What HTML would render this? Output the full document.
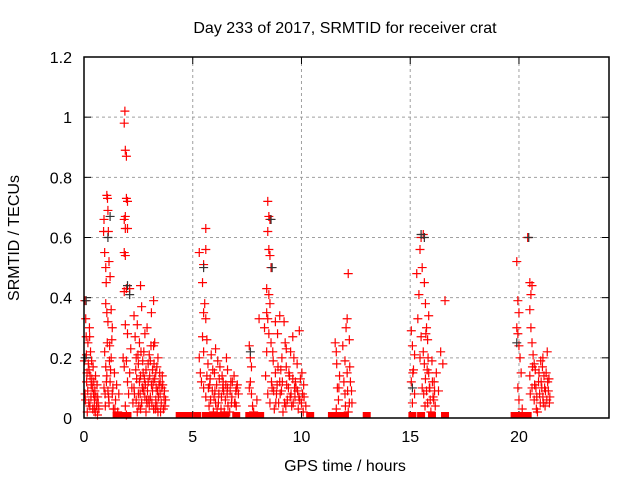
<!DOCTYPE html>
<html><head><meta charset="utf-8"><style>
body{margin:0;background:#fff}
svg{display:block;font-family:"Liberation Sans",sans-serif}
</style></head><body>
<svg id="chart" width="640" height="480" viewBox="0 0 640 480">
<rect width="640" height="480" fill="#fff"/>
<text x="345" y="33" text-anchor="middle" font-size="16">Day 233 of 2017, SRMTID for receiver crat</text>
<text x="0" y="0" transform="translate(19,238) rotate(-90)" text-anchor="middle" font-size="16">SRMTID / TECUs</text>
<text x="345" y="471" text-anchor="middle" font-size="16">GPS time / hours</text>
<g id="grid"></g><g id="axes"></g><g id="marks"></g>
<rect x="84" y="57" width="525" height="361" fill="none" stroke="#000" stroke-width="1.5"/>
</svg>
<script>
const xTicks=[0,5,10,15,20];
const yTicks=[0,0.2,0.4,0.6,0.8,1,1.2];
const yTickLabels=["0","0.2","0.4","0.6","0.8","1","1.2"];
const redTimes=[0.02,0.05,0.08,0.1,0.12,0.15,0.18,0.2,0.22,0.25,0.28,0.3,0.32,0.35,0.38,0.4,0.42,0.45,0.48,0.5,0.52,0.55,0.58,0.6,0.62,0.65,0.68,0.04,0.14,0.26,0.36,
0.9,0.92,0.95,1.0,1.02,1.05,1.08,1.1,1.12,1.15,1.0,1.05,1.1,1.2,1.25,1.3,0.95,1.0,1.05,1.1,1.15,1.2,1.25,1.3,1.35,1.4,1.45,0.92,0.98,1.5,1.55,1.6,1.18,1.28,
1.85,1.88,1.9,1.95,1.85,1.9,1.95,2.0,1.9,2.0,1.85,1.9,1.95,1.85,2.1,1.9,2.0,1.8,1.85,1.95,2.0,2.05,2.1,1.9,1.95,2.15,2.2,2.25,
2.3,2.35,2.4,2.45,2.5,2.55,2.6,2.65,2.7,2.75,2.8,2.85,2.9,2.95,3.0,3.05,3.1,3.15,3.2,3.25,3.3,3.35,3.4,3.45,3.5,3.55,3.6,3.65,3.7,3.75,2.3,2.4,2.5,2.6,2.7,2.8,2.9,3.0,3.1,3.2,3.3,3.4,3.5,2.45,2.55,2.65,2.75,2.85,2.95,3.05,3.15,3.25,3.35,2.6,3.2,
5.3,5.6,5.6,5.5,5.45,5.5,5.55,5.6,5.45,5.5,5.65,5.3,5.35,5.4,5.5,5.6,5.7,5.8,5.9,6.0,6.05,6.1,6.2,6.25,6.3,6.4,6.5,6.6,6.7,6.8,6.9,7.0,7.1,5.75,5.85,5.95,6.15,6.35,6.45,6.55,6.75,6.95,5.65,6.05,6.6,7.05,
7.6,7.65,7.7,7.65,7.7,7.75,7.8,7.6,7.95,8.05,
8.45,8.5,8.55,8.45,8.5,8.55,8.6,8.4,8.5,8.55,8.4,8.45,8.3,8.5,8.6,8.4,8.7,8.8,8.9,9.0,9.1,9.2,9.25,9.3,9.4,9.5,9.6,9.7,9.8,9.9,10.0,10.1,8.35,8.45,8.55,8.65,8.75,8.85,8.95,9.05,9.15,9.35,9.45,9.55,9.65,9.75,9.85,9.95,10.05,10.2,8.8,9.0,9.3,9.6,
11.55,11.6,11.65,11.7,11.6,11.75,11.9,12.0,12.05,12.1,12.15,12.2,12.25,12.0,12.1,12.2,12.3,12.15,11.95,
15.05,15.1,15.2,15.15,15.05,15.1,15.2,15.3,15.35,15.4,15.45,15.5,15.55,15.6,15.65,15.7,15.75,15.8,15.85,15.6,15.65,15.7,15.75,15.8,15.85,15.9,15.95,16.0,16.05,16.1,16.15,16.2,16.3,16.4,16.5,16.6,15.5,15.45,15.55,
19.9,19.95,20.0,19.9,19.95,20.0,20.05,20.1,19.95,20.0,20.15,20.4,20.5,20.6,20.55,20.5,20.55,20.6,20.65,20.7,20.5,20.6,20.7,20.8,20.9,21.0,21.05,21.1,21.15,21.2,21.3,21.35,21.4,20.85,20.95,21.25,20.75,21.1];
const redValues=[0.19,0.08,0.33,0.27,0.12,0.02,0.25,0.18,0.05,0.3,0.14,0.22,0.07,0.19,0.1,0.03,0.17,0.12,0.06,0.09,0.02,0.07,0.04,0.11,0.01,0.05,0.03,0.39,0.15,0.27,0.13,
0.62,0.66,0.55,0.5,0.45,0.74,0.73,0.69,0.62,0.52,0.38,0.35,0.32,0.47,0.36,0.3,0.22,0.17,0.14,0.09,0.05,0.12,0.2,0.08,0.03,0.15,0.06,0.1,0.04,0.11,0.02,0.08,0.24,0.26,
0.98,1.02,0.89,0.87,0.66,0.67,0.73,0.72,0.63,0.63,0.55,0.54,0.43,0.42,0.43,0.31,0.28,0.2,0.17,0.19,0.12,0.08,0.15,0.04,0.01,0.23,0.1,0.05,
0.34,0.27,0.2,0.31,0.18,0.25,0.14,0.37,0.1,0.22,0.07,0.16,0.3,0.12,0.04,0.19,0.35,0.09,0.24,0.13,0.06,0.17,0.02,0.11,0.08,0.05,0.14,0.03,0.09,0.06,0.1,0.06,0.08,0.03,0.19,0.28,0.05,0.21,0.11,0.03,0.15,0.2,0.12,0.02,0.12,0.05,0.09,0.02,0.18,0.07,0.16,0.25,0.04,0.44,0.39,
0.55,0.63,0.56,0.51,0.45,0.35,0.38,0.33,0.27,0.22,0.26,0.2,0.15,0.12,0.1,0.07,0.18,0.13,0.09,0.15,0.05,0.11,0.08,0.17,0.03,0.12,0.06,0.1,0.02,0.07,0.14,0.04,0.08,0.04,0.21,0.02,0.19,0.14,0.02,0.2,0.12,0.05,0.14,0.23,0.16,0.11,
0.24,0.2,0.17,0.12,0.08,0.04,0.02,0.1,0.06,0.33,
0.72,0.67,0.66,0.62,0.56,0.54,0.5,0.43,0.41,0.38,0.35,0.33,0.3,0.28,0.25,0.22,0.19,0.15,0.28,0.12,0.2,0.32,0.25,0.17,0.1,0.22,0.13,0.07,0.18,0.29,0.05,0.11,0.14,0.08,0.05,0.1,0.03,0.08,0.05,0.16,0.02,0.06,0.14,0.04,0.2,0.1,0.03,0.13,0.08,0.04,0.32,0.34,0.23,0.27,
0.25,0.22,0.1,0.06,0.03,0.14,0.24,0.19,0.3,0.33,0.48,0.26,0.12,0.08,0.15,0.05,0.09,0.02,0.12,
0.29,0.24,0.21,0.16,0.12,0.05,0.08,0.48,0.33,0.41,0.56,0.6,0.5,0.61,0.45,0.38,0.3,0.26,0.34,0.22,0.18,0.13,0.09,0.05,0.15,0.1,0.02,0.19,0.07,0.12,0.04,0.15,0.09,0.22,0.18,0.39,0.27,0.2,0.1,
0.52,0.39,0.35,0.3,0.28,0.24,0.2,0.15,0.1,0.06,0.03,0.6,0.45,0.44,0.41,0.36,0.3,0.25,0.21,0.18,0.14,0.1,0.06,0.03,0.12,0.19,0.1,0.07,0.14,0.04,0.22,0.09,0.05,0.02,0.08,0.15,0.16,0.2];
const extraTimes=[0.07,0.17,0.27,0.33,0.44,0.53,0.63,0.11,0.23,0.47,1.03,1.13,1.22,1.33,1.42,1.07,1.17,0.97,
2.32,2.42,2.52,2.62,2.72,2.82,2.92,3.02,3.12,3.22,3.32,3.42,3.52,3.62,3.72,2.38,2.58,2.78,2.98,3.18,3.38,3.58,2.48,2.68,2.88,3.08,3.28,3.48,3.68,
5.72,5.82,5.92,6.02,6.12,6.22,6.32,6.42,6.52,6.62,6.72,6.82,6.92,7.02,5.78,5.98,6.18,6.38,6.58,6.78,6.98,
8.62,8.72,8.82,8.92,9.02,9.12,9.22,9.32,9.42,9.52,9.62,9.72,9.82,9.92,10.02,10.12,8.68,8.88,9.08,9.28,9.48,9.68,9.88,10.08,
11.62,11.72,12.02,12.12,12.22,12.32,
15.12,15.62,15.72,15.82,15.92,16.02,16.12,15.68,15.78,15.88,16.08,
20.52,20.62,20.72,20.82,20.92,21.02,21.12,21.22,21.32,21.42,20.78,20.98,21.18,21.38,21.28,21.08];
const extraValues=[0.06,0.09,0.04,0.11,0.08,0.14,0.07,0.21,0.16,0.03,0.12,0.07,0.16,0.1,0.03,0.25,0.19,0.08,
0.08,0.13,0.04,0.22,0.15,0.11,0.09,0.14,0.05,0.18,0.1,0.07,0.02,0.11,0.04,0.16,0.08,0.13,0.06,0.12,0.09,0.1,0.21,0.1,0.06,0.24,0.03,0.15,0.07,
0.1,0.06,0.16,0.09,0.03,0.13,0.07,0.09,0.11,0.04,0.09,0.12,0.05,0.1,0.11,0.07,0.05,0.1,0.08,0.05,0.09,
0.12,0.09,0.05,0.17,0.08,0.12,0.05,0.11,0.15,0.08,0.05,0.12,0.09,0.06,0.15,0.07,0.22,0.11,0.09,0.04,0.07,0.1,0.07,0.02,
0.18,0.1,0.04,0.09,0.17,0.05,
0.15,0.08,0.28,0.2,0.06,0.12,0.09,0.04,0.16,0.1,0.06,
0.08,0.17,0.11,0.07,0.15,0.12,0.05,0.09,0.12,0.07,0.1,0.05,0.1,0.13,0.06,0.17];
const blackTimes=[0.1,0.05,1.2,1.1,2.0,2.1,5.5,8.6,8.65,15.5,15.65,20.45,19.9,15.1,7.65];
const blackValues=[0.39,0.2,0.67,0.6,0.44,0.41,0.5,0.66,0.5,0.61,0.6,0.6,0.25,0.1,0.22];
const zeroTimes=[1.5,1.7,1.9,2.0,4.4,4.5,4.6,4.8,5.2,5.6,5.8,6.1,6.2,6.3,6.5,7.0,7.6,7.8,7.9,8.0,8.1,10.4,11.4,11.7,12.0,13.0,15.1,15.5,16.0,16.6,19.8,19.9,20.0,20.1,20.4];

const X0=84,X1=609,Y0=418,Y1=57,XMAX=24.14,YMAX=1.2;
const xs=t=>X0+t/XMAX*(X1-X0);
const ys=v=>Y0-v/YMAX*(Y0-Y1);
const NS="http://www.w3.org/2000/svg";
function mk(tag,attrs,parent){const e=document.createElementNS(NS,tag);for(const k in attrs)e.setAttribute(k,attrs[k]);parent.appendChild(e);return e;}
const grid=document.getElementById('grid'),axes=document.getElementById('axes'),marks=document.getElementById('marks');
xTicks.forEach(t=>{const x=xs(t);
 if(t>0){const g=mk('line',{x1:x,x2:x,y1:Y1,y2:Y0,stroke:'#a0a0a0','stroke-dasharray':'3,3'},grid);
 
 }
 mk('line',{x1:x,x2:x,y1:Y0,y2:Y0-7,stroke:'#000'},axes);
 mk('line',{x1:x,x2:x,y1:Y1,y2:Y1+7,stroke:'#000'},axes);
 const l=mk('text',{x:x,y:Y0+24,'text-anchor':'middle','font-size':'16'},axes);l.textContent=t;
 
 
});
yTicks.forEach((v,i)=>{const y=ys(v);
 if(v>0&&v<YMAX){const g=mk('line',{x1:X0,x2:X1,y1:y,y2:y,stroke:'#a0a0a0','stroke-dasharray':'3,3'},grid);
 
 }
 mk('line',{x1:X0,x2:X0+7,y1:y,y2:y,stroke:'#000'},axes);
 mk('line',{x1:X1,x2:X1-7,y1:y,y2:y,stroke:'#000'},axes);
 const l=mk('text',{x:X0-12,y:y+6,'text-anchor':'end','font-size':'16'},axes);l.textContent=yTickLabels[i];
 
 
});
function plus(t,v,c,name){const x=xs(t),y=ys(v);
 const p=mk('path',{d:`M${x-4.5},${y}H${x+4.5}M${x},${y-4.5}V${y+4.5}`,stroke:c,'stroke-width':'1.2',fill:'none'},marks);
 
 }
redTimes.forEach((t,i)=>plus(t,redValues[i],'#f00','red-point'));
extraTimes.forEach((t,i)=>plus(t,extraValues[i],'#f00','red-point'));
blackTimes.forEach((t,i)=>plus(t,blackValues[i],'#333','black-point'));
zeroTimes.forEach(t=>{const r=mk('rect',{x:xs(t)-4,y:Y0-6,width:8,height:6,fill:'#f00'},marks);
 
 });
</script>
</body></html>
